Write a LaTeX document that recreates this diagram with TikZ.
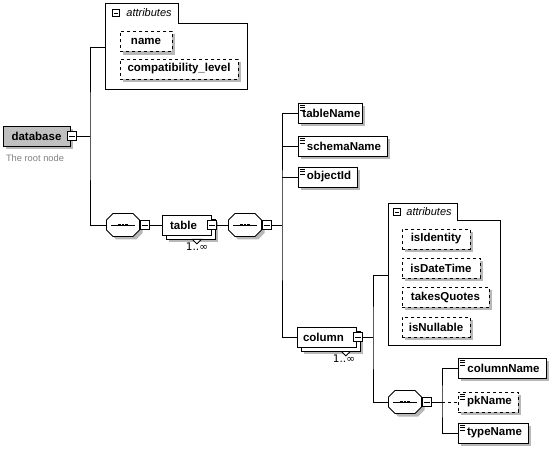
\documentclass[tikz,border=0pt]{standalone}
\usepackage{fontspec}
\setmainfont{Liberation Sans}
\newfontfamily\infinityfont{DejaVu Sans}
\usetikzlibrary{calc}
\definecolor{dbfill}{RGB}{192,192,192}
\definecolor{notegray}{RGB}{128,128,128}
\colorlet{shadowgrey}{black!28}
\newcommand\octpath{(-16.5,-5) -- (-10,-11.5) -- (10,-11.5) -- (16.5,-5) -- (16.5,5) -- (10,11.5) -- (-10,11.5) -- (-16.5,5) -- cycle}
\begin{document}
\begin{tikzpicture}[x=1pt,y=-1pt,line width=0.8pt,
  font=\fontsize{11.5}{13}\selectfont\bfseries,
  box/.style={draw,fill=white,minimum height=20pt,inner sep=1pt},
  shadownode/.style={draw=none,fill=shadowgrey,minimum height=20.8pt,inner sep=0pt},
  elem/.style={box,path picture={
      \foreach \k in {2,4.5,7}{\draw[line width=0.6pt,solid]
        ([xshift=1.5pt,yshift=-\k pt]path picture bounding box.north west) -- ++(5pt,0);}}},
  attrib/.style={box,dashed},
  btn/.style={draw,solid,fill=white,minimum width=9.5pt,minimum height=9.5pt,inner sep=0pt,
      path picture={\draw[line width=0.7pt] ([xshift=2pt]path picture bounding box.west) --
        ([xshift=-2pt]path picture bounding box.east);}},
  tabbtn/.style={btn,minimum width=7.5pt,minimum height=7.5pt},
  seqanchor/.style={minimum width=33pt,minimum height=23pt,inner sep=0pt},
  backbox/.style={draw=black,fill=white,minimum height=20pt,inner sep=0pt},
  tablabel/.style={font=\fontsize{11}{13}\selectfont\itshape,anchor=west,inner sep=0pt},
  mult/.style={font=\infinityfont\fontsize{10.5}{12}\selectfont,inner sep=0pt},
  note/.style={font=\fontsize{9.3}{11}\selectfont,text=notegray,inner sep=0pt},
  conn/.style={line width=0.8pt}
]
\useasboundingbox (0,0) rectangle (551,454);

% ---------- shadows (drawn first, behind everything) ----------
\node[shadownode,minimum width=67.8pt] (shdb) at (39.5,139) {};
\node[shadownode,minimum width=52.8pt] (shname) at (149,44.5) {};
\node[shadownode,minimum width=118.8pt] (shcompat) at (182,72) {};
\node[shadownode,minimum width=64.8pt] (shtn) at (333,116) {};
\node[shadownode,minimum width=89.8pt] (shsn) at (345.5,149) {};
\node[shadownode,minimum width=59.8pt] (shoi) at (330.5,180) {};
\node[shadownode,minimum width=68.8pt] (shii) at (439,242) {};
\node[shadownode,minimum width=78.8pt] (shidt) at (444,271) {};
\node[shadownode,minimum width=87.8pt] (shtq) at (448.5,300) {};
\node[shadownode,minimum width=68.8pt] (shin) at (439,330) {};
\node[shadownode,minimum width=88.8pt] (shcn) at (505,371) {};
\node[shadownode,minimum width=60.8pt] (shpk) at (491,405) {};
\node[shadownode,minimum width=70.8pt] (shty) at (496,436) {};
\node[shadownode,minimum width=49.8pt] (shtable) at (193.5,232) {};
\node[shadownode,minimum width=59.8pt] (shcolumn) at (333.5,344) {};
\foreach \cx/\cy in {123/225,245/225,405/402}{
  \begin{scope}[shift={(\cx+3,\cy+3)}]
    \fill[shadowgrey] \octpath;
  \end{scope}
}
% stacked copies behind multi-occurrence elements
\node[backbox,minimum width=49pt] (tableback) at (190.5,229) {};
\node[backbox,minimum width=59pt] (columnback) at (330.5,341) {};

% ---------- root ----------
\node[box,fill=dbfill,minimum width=67pt] (db) at (36.5,136) {database};
\node[btn] (dbbtn) at (72,136) {};
\node[note] (rootnote) at (35,158) {The root node};
\coordinate (j1) at (90,136);

% ---------- attributes 1 ----------
\draw (105,3) -- (178,3) -- (178,23) -- (247,23) -- (247,89) -- (105,89) -- cycle;
\node[tabbtn] (a1btn) at (116,13) {};
\node[tablabel] (a1lab) at (126,13) {attributes};
\coordinate (attr1) at (105,47);
\node[attrib,minimum width=52pt] (name) at (146,41.5) {name};
\node[attrib,minimum width=118pt] (compat) at (179,69) {compatibility\_level};

% ---------- sequence 1 / table ----------
\node[seqanchor] (s1) at (123,225) {};
\node[box,minimum width=49pt] (table) at (186.5,225) {\hspace{-6pt}table};
\node[mult] (tmult) at (197,247) {1..∞};
\node[seqanchor] (s2) at (245,225) {};
\coordinate (j2) at (282,225);

% ---------- table children ----------
\node[elem,minimum width=64pt] (tableName) at (330,113) {\hspace{3pt}tableName};
\node[elem,minimum width=89pt] (schemaName) at (342.5,146) {\hspace{3pt}schemaName};
\node[elem,minimum width=59pt] (objectId) at (327.5,177) {\hspace{3pt}objectId};
\node[box,minimum width=59pt] (column) at (326.5,337) {\hspace{-6pt}column};
\node[mult] (cmult) at (344,359) {1..∞};
\coordinate (j3) at (373,337);

% ---------- attributes 2 ----------
\draw (388,203) -- (457,203) -- (457,220) -- (500,220) -- (500,345) -- (388,345) -- cycle;
\node[tabbtn] (a2btn) at (397,212) {};
\node[tablabel] (a2lab) at (406,212) {attributes};
\coordinate (attr2) at (388,275);
\node[attrib,minimum width=68pt] (isIdentity) at (436,239) {isIdentity};
\node[attrib,minimum width=78pt] (isDateTime) at (441,268) {isDateTime};
\node[attrib,minimum width=87pt] (takesQuotes) at (445.5,297) {takesQuotes};
\node[attrib,minimum width=68pt] (isNullable) at (436,327) {isNullable};

% ---------- sequence 3 / column children ----------
\node[seqanchor] (s3) at (405,402) {};
\coordinate (j4) at (442,402);
\node[elem,minimum width=88pt] (columnName) at (502,368) {\hspace{3pt}columnName};
\node[elem,dashed,minimum width=60pt] (pkName) at (488,402) {\hspace{3pt}pkName};
\node[elem,minimum width=70pt] (typeName) at (493,433) {\hspace{3pt}typeName};

% ---------- sequence compositors (octagons) ----------
\foreach \s in {s1,s2,s3}{
  \begin{scope}[shift={(\s.center)}]
    \draw[fill=white] \octpath;
    \draw[line width=0.8pt] (-12,0) -- (12,0);
    \foreach \d in {-3.7,0,3.7}{\fill (\d-1.4,-1.4) rectangle (\d+1.4,1.4);}
  \end{scope}
}
% expand/collapse buttons
\node[btn] (s1btn) at (145,225) {};
\node[btn] (tablebtn) at (212,225) {};
\node[btn] (s2btn) at (267,225) {};
\node[btn] (colbtn) at (358,337) {};
\node[btn] (s3btn) at (427,402) {};

% drop-down markers below stacked elements
\draw[fill=white] ($(table.south east)+(-19,4)$) -- ($(table.south east)+(-10,4)$)
   -- ($(table.south east)+(-14.5,8.5)$) -- cycle;
\draw[fill=white] ($(column.south east)+(-15,4)$) -- ($(column.south east)+(-6,4)$)
   -- ($(column.south east)+(-10.5,8.5)$) -- cycle;

% ---------- connectors ----------
\draw[conn] (dbbtn.east) -- (j1);
\draw[conn] (attr1) -| (j1) |- (s1.west);
\draw[conn] (s1btn.east) -- (table.west);
\draw[conn] (tablebtn.east) -- (s2.west);
\draw[conn] (s2btn.east) -- (j2);
\draw[conn] (tableName.west) -| (j2) |- (column.west);
\draw[conn] (schemaName.west) -- (schemaName.west -| j2);
\draw[conn] (objectId.west) -- (objectId.west -| j2);
\draw[conn] (colbtn.east) -- (j3);
\draw[conn] (attr2) -| (j3) |- (s3.west);
\draw[conn] (s3btn.east) -- (j4);
\draw[conn] (columnName.west) -| (j4) |- (typeName.west);
\draw[conn,dashed] (j4) -- (pkName.west);
\end{tikzpicture}
\end{document}
